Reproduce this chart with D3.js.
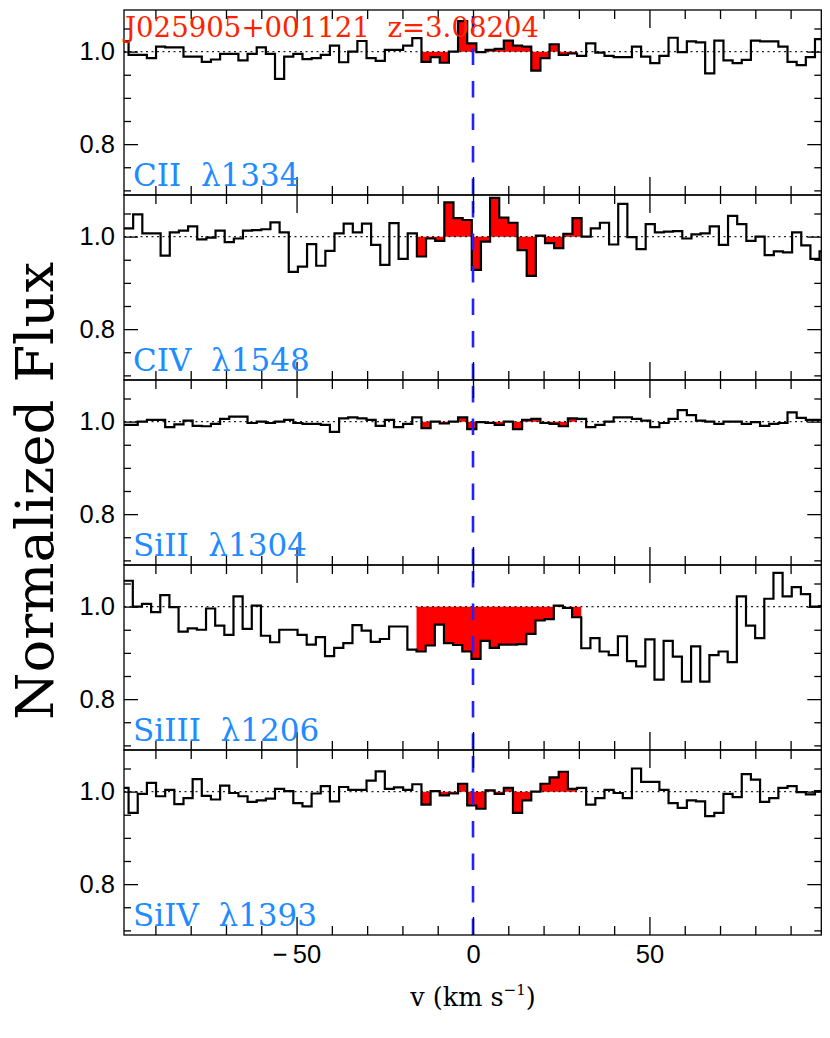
<!DOCTYPE html>
<html>
<head>
<meta charset="utf-8">
<script src="https://cdn.jsdelivr.net/npm/d3@7"></script>
<style>
  body { margin: 0; background: #fff; }
  svg { display: block; }
</style>
</head>
<body>
<svg id="chart" width="830" height="1038"></svg>
<script>
// spectrum bins: constant velocity step, each panel has its own first bin centre
const velStep = 2.5935;
const ionNames = ["CII  λ1334", "CIV  λ1548", "SiII  λ1304", "SiIII  λ1206", "SiIV  λ1393"];
const velStart = [-98.9, -97.6, -98.9, -97.7, -98.9];

const fluxCII = [
  1.022, 0.993, 0.993, 0.986, 1.011, 1.009, 1.009, 0.989, 0.989, 0.978,
  0.983, 0.995, 0.995, 0.981, 0.995, 1.009, 0.995, 0.941, 0.989, 0.995,
  0.984, 0.986, 0.993, 1.013, 0.977, 1.000, 1.023, 0.986, 0.980, 1.004,
  1.004, 1.013, 1.029, 0.978, 0.988, 0.976, 1.000, 1.066, 1.018, 0.999,
  1.004, 1.006, 1.024, 1.013, 1.011, 0.959, 0.986, 1.016, 0.993, 0.996,
  0.991, 1.018, 0.998, 0.991, 0.988, 0.988, 1.011, 0.989, 0.975, 0.991,
  1.030, 0.999, 1.022, 1.020, 0.953, 1.024, 0.981, 0.975, 0.982, 1.024,
  1.022, 1.022, 1.011, 0.978, 0.971, 0.988, 1.027
];
const fluxCIV = [
  1.018, 1.048, 1.007, 1.007, 0.959, 1.009, 1.013, 1.022, 0.994, 0.998,
  1.013, 0.988, 0.996, 1.013, 1.014, 1.016, 1.031, 1.009, 0.924, 0.935,
  0.984, 0.937, 0.969, 1.007, 1.028, 1.009, 1.028, 0.982, 0.939, 1.029,
  0.952, 1.007, 0.957, 0.996, 0.991, 1.074, 1.040, 1.036, 0.928, 0.989,
  1.084, 1.041, 1.030, 0.971, 0.915, 1.002, 0.986, 0.975, 1.006, 1.040,
  1.000, 1.018, 1.030, 0.983, 1.071, 0.999, 0.973, 1.027, 1.009, 1.011,
  1.012, 0.996, 1.005, 1.007, 1.022, 0.982, 1.045, 1.027, 0.991, 1.000,
  0.960, 0.968, 0.966, 1.009, 0.981, 0.952, 0.968
];
const fluxSiII = [
  0.993, 0.993, 1.000, 1.004, 1.004, 0.988, 0.994, 1.002, 0.991, 0.990,
  0.995, 1.006, 1.011, 1.011, 0.997, 1.000, 0.997, 1.000, 1.004, 0.997,
  0.995, 0.995, 0.993, 0.978, 1.007, 1.009, 1.007, 1.004, 0.991, 1.004,
  0.988, 0.995, 1.009, 0.986, 1.000, 0.996, 1.000, 1.009, 0.984, 0.999,
  0.997, 0.993, 1.000, 0.984, 1.004, 1.006, 0.997, 0.995, 0.990, 1.007,
  1.006, 0.988, 0.993, 1.000, 1.009, 1.009, 1.006, 1.002, 0.988, 0.997,
  1.006, 1.025, 1.014, 1.002, 1.000, 0.995, 1.000, 1.000, 0.995, 0.999,
  0.991, 0.995, 0.997, 1.020, 1.008, 1.004, 1.004
];
const fluxSiIII = [
  1.056, 1.000, 1.006, 0.988, 1.025, 0.999, 0.946, 0.953, 0.950, 0.996,
  0.959, 0.939, 1.022, 0.952, 1.002, 0.937, 0.923, 0.950, 0.950, 0.939,
  0.918, 0.934, 0.893, 0.911, 0.921, 0.960, 0.948, 0.924, 0.930, 0.957,
  0.957, 0.907, 0.903, 0.916, 0.961, 0.921, 0.917, 0.903, 0.887, 0.926,
  0.911, 0.918, 0.918, 0.919, 0.941, 0.970, 0.973, 1.002, 0.997, 0.977,
  0.910, 0.932, 0.903, 0.895, 0.936, 0.882, 0.871, 0.929, 0.842, 0.926,
  0.892, 0.838, 0.914, 0.838, 0.895, 0.903, 0.880, 1.022, 0.959, 0.932,
  1.017, 1.073, 1.022, 1.042, 1.027, 1.000, 1.001
];
const fluxSiIV = [
  1.008, 0.954, 0.995, 1.019, 0.990, 1.004, 0.973, 0.986, 1.027, 0.991,
  0.983, 1.013, 0.997, 0.990, 0.978, 0.981, 0.985, 1.006, 1.001, 0.975,
  0.968, 0.996, 1.012, 0.979, 1.010, 1.004, 1.004, 1.024, 1.044, 1.006,
  1.009, 1.004, 1.016, 0.972, 1.001, 0.992, 0.996, 1.017, 0.970, 0.963,
  1.003, 0.995, 1.008, 0.954, 0.981, 1.000, 1.017, 1.031, 1.043, 1.006,
  1.008, 0.972, 0.986, 1.004, 0.997, 0.986, 1.050, 1.021, 1.021, 1.004,
  0.975, 0.965, 0.981, 0.979, 0.947, 0.954, 0.995, 0.988, 1.038, 1.026,
  0.978, 0.986, 1.008, 1.012, 0.999, 0.994, 1.001
];
const fluxes = [fluxCII, fluxCIV, fluxSiII, fluxSiIII, fluxSiIV];

const absWindow = [-15.5, 30];       // velocity range filled in red
const xDomain = [-98.9, 98.7];
const yDomain = [0.69, 1.09];
const xMajor = [-50, 0, 50];
const xMinor = [-90, -80, -70, -60, -40, -30, -20, -10, 10, 20, 30, 40, 60, 70, 80, 90];
const yMajor = [0.8, 1.0];
const yMinor = [0.7, 0.75, 0.85, 0.9, 0.95, 1.05];
const titleText = "J025905+001121  z=3.08204";

const svg = d3.select("#chart");
const plotL = 124, plotR = 821.3, plotT = 10, panelH = 185;

const x = d3.scaleLinear().domain(xDomain).range([plotL, plotR]);

// step outline through a list of bins (each bin drawn full width)
function stepPath(bins, y) {
  let d = "";
  bins.forEach(function(b, k) {
    const xa = x(b.v - velStep / 2), xb = x(b.v + velStep / 2), yy = y(b.f);
    d += (k === 0 ? "M" + xa + "," + yy : "V" + yy) + "H" + xb;
  });
  return d;
}

fluxes.forEach(function(flux, p) {
  const top = plotT + p * panelH;
  const bottom = top + panelH;
  const y = d3.scaleLinear().domain(yDomain).range([bottom, top]);

  const bins = flux.map(function(f, k) {
    return { v: velStart[p] + k * velStep, f: f };
  });

  const clipId = "clip" + p;
  svg.append("clipPath").attr("id", clipId)
    .append("rect")
    .attr("x", plotL).attr("y", top)
    .attr("width", plotR - plotL).attr("height", panelH);

  const g = svg.append("g").attr("clip-path", "url(#" + clipId + ")");

  // red absorption fill between continuum and flux, one polygon
  const absBins = bins.filter(function(b) { return b.v >= absWindow[0] && b.v <= absWindow[1]; });
  const first = absBins[0];
  g.append("path")
    .attr("d", "M" + x(first.v - velStep / 2) + "," + y(1) + "V" + y(first.f) +
      stepPath(absBins, y).replace(/^M[^H]*/, "") +
      "V" + y(1) + "Z")
    .attr("fill", "#ff0000")
    .attr("fill-rule", "nonzero");

  // continuum
  g.append("line")
    .attr("x1", plotL).attr("x2", plotR)
    .attr("y1", y(1)).attr("y2", y(1))
    .attr("stroke", "#222").attr("stroke-width", 1.1)
    .attr("stroke-dasharray", "2,3.5");

  // histogram-style spectrum
  g.append("path")
    .attr("d", stepPath(bins, y))
    .attr("fill", "none")
    .attr("stroke", "#000")
    .attr("stroke-width", 2.2)
    .attr("stroke-linejoin", "miter");

  // v = 0 marker
  svg.append("line")
    .attr("x1", x(0)).attr("x2", x(0))
    .attr("y1", y(yDomain[0])).attr("y2", y(yDomain[1]))
    .attr("stroke", "#2222ff").attr("stroke-width", 2.6)
    .attr("stroke-dasharray", "16.5,16");

  // axes, ticks inward on all four sides
  function addAxis(axis, tx, ty) {
    const a = svg.append("g").attr("transform", "translate(" + tx + "," + ty + ")").call(axis);
    a.select(".domain").remove();
    a.selectAll("text").remove();
    a.selectAll("line").attr("stroke", "#000").attr("stroke-width", 1.3);
  }
  addAxis(d3.axisTop(x).tickValues(xMinor).tickSize(9), 0, bottom);
  addAxis(d3.axisTop(x).tickValues(xMajor).tickSize(18), 0, bottom);
  addAxis(d3.axisBottom(x).tickValues(xMinor).tickSize(9), 0, top);
  addAxis(d3.axisBottom(x).tickValues(xMajor).tickSize(18), 0, top);
  addAxis(d3.axisRight(y).tickValues(yMinor).tickSize(7), plotL, 0);
  addAxis(d3.axisRight(y).tickValues(yMajor).tickSize(14), plotL, 0);
  addAxis(d3.axisLeft(y).tickValues(yMinor).tickSize(7), plotR, 0);
  addAxis(d3.axisLeft(y).tickValues(yMajor).tickSize(14), plotR, 0);

  // y labels
  const yl = svg.append("g").attr("transform", "translate(" + plotL + ",0)")
    .call(d3.axisLeft(y).tickValues(yMajor).tickSize(0).tickPadding(9).tickFormat(d3.format(".1f")));
  yl.select(".domain").remove();
  yl.selectAll("text")
    .attr("font-family", "Liberation Sans, Arial, sans-serif")
    .attr("font-size", 25.5).attr("fill", "#000");

  // frame
  svg.append("rect")
    .attr("x", plotL).attr("y", top)
    .attr("width", plotR - plotL).attr("height", panelH)
    .attr("fill", "none").attr("stroke", "#000").attr("stroke-width", 1.3);

  // ion label
  svg.append("text")
    .attr("x", 133).attr("y", bottom - 9)
    .attr("font-family", "DejaVu Serif, serif")
    .attr("font-size", 31)
    .attr("fill", "#1e8cff")
    .style("white-space", "pre")
    .text(ionNames[p]);

  if (p === fluxes.length - 1) {
    const xl = svg.append("g").attr("transform", "translate(0," + bottom + ")")
      .call(d3.axisBottom(x).tickValues(xMajor).tickSize(0).tickPadding(10)
        .tickFormat(function(v) { return v < 0 ? "\u2212\u2009" + Math.abs(v) : v; }));
    xl.select(".domain").remove();
    xl.selectAll("text")
      .attr("font-family", "Liberation Sans, Arial, sans-serif")
      .attr("font-size", 25.5).attr("fill", "#000");
  }
});

// title inside the first panel
svg.append("text")
  .attr("x", 125).attr("y", 37)
  .attr("font-family", "DejaVu Serif, serif")
  .attr("font-size", 27.6)
  .attr("fill", "#ff2200")
  .style("white-space", "pre")
  .text(titleText);

// axis titles
const xt = svg.append("text")
  .attr("x", x(0)).attr("y", 1006)
  .attr("text-anchor", "middle")
  .attr("font-family", "DejaVu Serif, serif")
  .attr("font-size", 25.5)
  .attr("fill", "#000");
xt.append("tspan").text("v (km s");
xt.append("tspan").attr("dy", -11).attr("font-size", 15).text("\u22121");
xt.append("tspan").attr("dy", 11).text(")");

svg.append("text")
  .attr("transform", "translate(53,491) rotate(-90)")
  .attr("text-anchor", "middle")
  .attr("font-family", "DejaVu Serif, serif")
  .attr("font-size", 53)
  .attr("textLength", 458)
  .attr("lengthAdjust", "spacingAndGlyphs")
  .attr("fill", "#000")
  .text("Normalized Flux");
</script>
</body>
</html>
